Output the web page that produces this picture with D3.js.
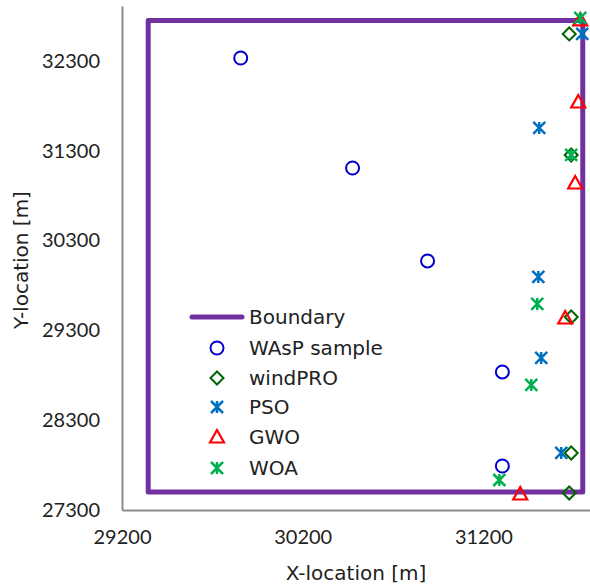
<!DOCTYPE html>
<html><head><meta charset="utf-8">
<script src="https://cdn.jsdelivr.net/npm/d3@7"></script>
<style>body{margin:0;background:#fff}svg{display:block}text{font-family:"DejaVu Sans",sans-serif;fill:#222}</style>
</head><body><div id="c"></div>
<script>
const xTicks=[29200,30200,31200];
const yTicks=[27300,28300,29300,30300,31300,32300];
const boundaryX=[29345,31750,31750,29345,29345];
const boundaryY=[32750,32750,27500,27500,32750];
const waspX=[29857,30476,30891,31305,31305];
const waspY=[32333,31108,30073,28837,27790];
const windproX=[31675,31686,31686,31686,31675];
const windproY=[32601,31253,29449,27935,27489];
const psoX=[31747,31509,31504,31520,31631];
const psoY=[32601,31554,29895,28993,27935];
const gwoX=[31736,31725,31708,31653,31404];
const gwoY=[32757,31843,30941,29438,27478];
const woaX=[31736,31686,31498,31465,31288];
const woaY=[32779,31253,29594,28692,27634];
const legendLabels=["Boundary","WAsP sample","windPRO","PSO","GWO","WOA"];

const W=590,H=588;
const svg=d3.select("#c").append("svg").attr("width",W).attr("height",H);
const x=d3.scaleLinear().domain([29200,31790]).range([122,590]);
const y=d3.scaleLinear().domain([27300,32912]).range([510,6]);

// axes
const xa=svg.append("g").attr("transform","translate(0,510)").call(d3.axisBottom(x).tickValues(xTicks).tickSize(0).tickPadding(20).tickFormat(d3.format("d")));
const ya=svg.append("g").attr("transform","translate(122,0)").call(d3.axisLeft(y).tickValues(yTicks).tickSize(0).tickPadding(22).tickFormat(d3.format("d")));
[xa,ya].forEach(a=>{a.select(".domain").attr("stroke","#8c8c8c").attr("stroke-width",2);a.selectAll("text").style("font-size","20px").style("font-family","Lato,'Noto Sans',sans-serif").attr("fill","#222");});
svg.append("text").attr("x",356).attr("y",580).attr("text-anchor","middle").style("font-size","20px").text("X-location [m]");
svg.append("text").attr("transform","translate(28,260) rotate(-90)").attr("text-anchor","middle").style("font-size","20px").text("Y-location [m]");

const purple="#7030A0";
// boundary
svg.append("path").datum(boundaryX.map((d,i)=>[d,boundaryY[i]]))
 .attr("d",d3.line().x(d=>x(d[0])).y(d=>y(d[1])))
 .attr("fill","none").attr("stroke",purple).attr("stroke-width",5).attr("stroke-linejoin","round").attr("stroke-linecap","round");

const star=h=>`M${-h},${-h}L${h},${h}M${-h},${h}L${h},${-h}M0,${-h}L0,${h}`;
const shapes={
 circle:(g,c)=>g.append("circle").attr("r",6.5).attr("fill","none").attr("stroke",c).attr("stroke-width",2),
 diamond:(g,c)=>g.append("path").attr("d","M0,-6.5L6.5,0L0,6.5L-6.5,0Z").attr("fill","none").attr("stroke",c).attr("stroke-width",2),
 star:(g,c)=>g.append("path").attr("d",star(6)).attr("fill","none").attr("stroke",c).attr("stroke-width",2.5),
 tri:(g,c)=>g.append("path").attr("d","M0,-7L7,5.5L-7,5.5Z").attr("fill","none").attr("stroke",c).attr("stroke-width",2.2)
};
const series=[
 {xs:waspX,ys:waspY,shape:"circle",color:"#0000CC"},
 {xs:windproX,ys:windproY,shape:"diamond",color:"#006400"},
 {xs:psoX,ys:psoY,shape:"star",color:"#0070C0"},
 {xs:gwoX,ys:gwoY,shape:"tri",color:"#FF0000"},
 {xs:woaX,ys:woaY,shape:"star",color:"#00B050"}
];
series.forEach(s=>{
 s.xs.forEach((vx,i)=>{
  const g=svg.append("g").attr("transform",`translate(${x(vx)},${y(s.ys[i])})`);
  shapes[s.shape](g,s.color);
 });
});

// legend
const ly=[317,348,378,407,437,468];
svg.append("line").attr("x1",192).attr("x2",242).attr("y1",ly[0]).attr("y2",ly[0]).attr("stroke",purple).attr("stroke-width",5).attr("stroke-linecap","round");
legendLabels.forEach((l,i)=>{
 svg.append("text").attr("x",249).attr("y",ly[i]).attr("dy","0.35em").style("font-size","20px").text(l);
 if(i>0){const s=series[i-1];const g=svg.append("g").attr("transform",`translate(217,${ly[i]})`);shapes[s.shape](g,s.color);}
});
</script></body></html>
